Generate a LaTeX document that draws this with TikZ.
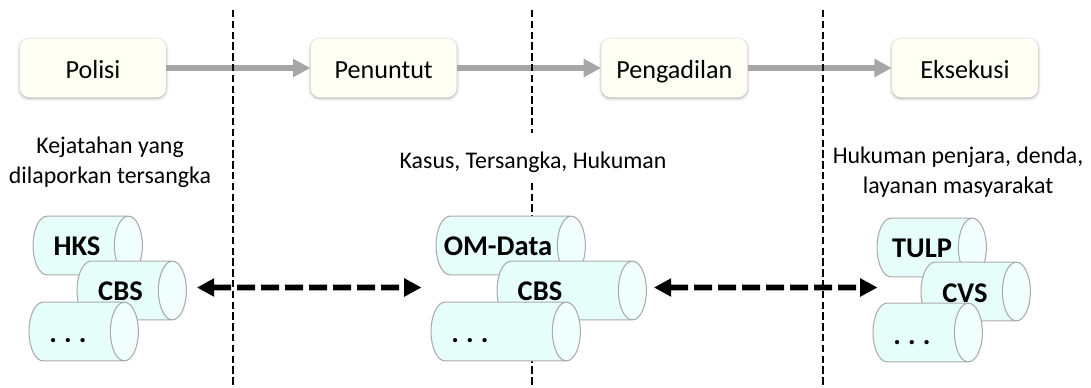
\documentclass[tikz,border=0pt]{standalone}
\usepackage{tikz}
\usepackage{xcolor}
\usepackage{fontspec}
\setmainfont{Carlito}
\usetikzlibrary{arrows.meta,positioning,shapes.geometric,shadows.blur}
\definecolor{stagefill}{HTML}{FFFFF3}
\definecolor{cylfill}{HTML}{E6FFFB}
\definecolor{capfill}{HTML}{F0FFFD}
\definecolor{cylline}{HTML}{ABABAB}
\definecolor{flowgray}{HTML}{A6A6A6}

\begin{document}
\begin{tikzpicture}[x=0.75pt,y=-0.75pt,node distance=218pt,
                stage node/.style={rectangle,rounded corners=7pt,fill=stagefill,minimum width=109.5pt,minimum height=44pt,
                  inner sep=0pt,font=\fontsize{19.6}{22}\selectfont,text height=17pt,text depth=2pt,
                  blur shadow={shadow xshift=0pt,shadow yshift=-.8pt,shadow blur radius=2.2pt,shadow opacity=35}},
                data node/.style={cylinder,draw=cylline,line width=.8pt,cylinder uses custom fill,cylinder body fill=cylfill,
                  cylinder end fill=capfill,shape aspect=1,minimum height=82pt,minimum width=44pt,inner xsep=0pt,inner ysep=10.5pt,anchor=west},
                data text/.style={anchor=base,inner sep=0pt,font=\fontsize{21.4}{24}\selectfont\bfseries},
                info node/.style={align=center,fill=white,inner sep=1pt,font=\fontsize{17.9}{22.5}\selectfont},
                flow/.style={-{Triangle[length=13pt,width=13pt]},draw=flowgray,line width=4.5pt},
                border/.style={draw=black,line width=2pt,dash pattern=on 5.5pt off 2.6pt},
                exchange/.style={{Triangle[length=13pt,width=13pt]}-{Triangle[length=13pt,width=13pt]},draw=black,line width=4.2pt,dash pattern=on 13.5pt off 4.5pt}]

      \useasboundingbox (0,0) rectangle (1091,387);

      % stages of the chain
      \node[stage node] (S1) at (93,68) {Polisi};
      \node[stage node] (S2) [right of=S1] {Penuntut};
      \node[stage node] (S3) [right of=S2] {Pengadilan};
      \node[stage node] (S4) [right of=S3] {Eksekusi};
      \draw[flow] (S1) -- (S2);
      \draw[flow] (S2) -- (S3);
      \draw[flow] (S3) -- (S4);

      % borders between the organisations
      \coordinate (B1a) at (233,10);
      \coordinate (B1b) at (233,387);
      \coordinate (B2a) at (532,10);
      \coordinate (B2b) at (532,387);
      \coordinate (B3a) at (823,10);
      \coordinate (B3b) at (823,387);
      \draw[border] (B1a) -- (B1b);
      \draw[border] (B2a) -- (B2b);
      \draw[border] (B3a) -- (B3b);

      \node[info node] (I1) at (110,162) {Kejatahan yang\\dilaporkan tersangka};
      \node[info node,minimum height=37.5pt,text height=17pt,text depth=2pt] (I2) at (533,158) {Kasus, Tersangka, Hukuman};
      \node[info node] (I3) at (958,172.5) {Hukuman penjara, denda,\\layanan masyarakat};

      % left group
      \node[data node] (A1) at (32.5,245.5) {};
      \node[data node] (A2) at (76.5,290.5) {};
      \node[data node] (A3) at (28.5,331.5) {};
      \node[data text] (A1t) at (77,255) {HKS};
      \node[data text] (A2t) at (120.5,300) {CBS};
      \node[data text] (A3t) at (68,342) {.\hspace{.25em}.\hspace{.25em}.};

      % middle group
      \node[data node,minimum height=112pt] (B1) at (435.5,245.5) {};
      \node[data node,minimum height=112pt] (B2) at (496.5,290.5) {};
      \node[data node,minimum height=112pt] (B3) at (430.5,331.5) {};
      \node[data text] (B1t) at (498,255) {OM-Data};
      \node[data text] (B2t) at (540,300) {CBS};
      \node[data text] (B3t) at (470,342) {.\hspace{.25em}.\hspace{.25em}.};

      % right group
      \node[data node] (C1) at (876.5,247.5) {};
      \node[data node] (C2) at (920.5,291.5) {};
      \node[data node] (C3) at (872.5,332.5) {};
      \node[data text] (C1t) at (922,257) {TULP};
      \node[data text] (C2t) at (965,302) {CVS};
      \node[data text] (C3t) at (912,344) {.\hspace{.25em}.\hspace{.25em}.};

      \draw[exchange] ([shift={(10,-3)}]A2.east) -- ([shift={(-75,-3)}]B2.west);
      \draw[exchange] ([shift={(7,-3)}]B2.east) -- ([shift={(-43,-4)}]C2.west);
  \end{tikzpicture}
\end{document}
